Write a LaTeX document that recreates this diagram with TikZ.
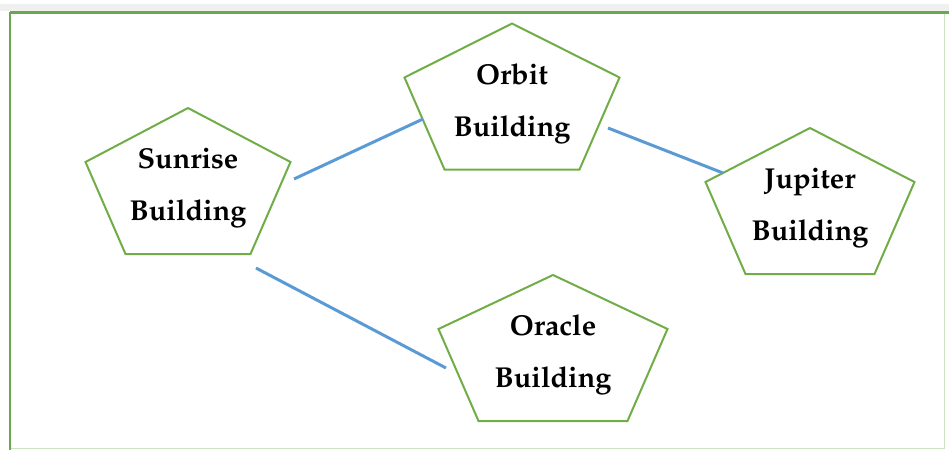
\documentclass[tikz,border=0pt]{standalone}
\usepackage[T1]{fontenc}
\usepackage{mathpazo}
\definecolor{bldggreen}{HTML}{70AD47}
\definecolor{framegreen}{HTML}{6AA84F}
\definecolor{linkblue}{HTML}{5B9BD5}
\tikzset{
    bldg/.style={font=\bfseries\fontsize{14.4}{26}\selectfont, align=center},
    link/.style={linkblue, line width=1.5pt},
    pics/pent/.style={code={
        \draw[bldggreen, line width=1pt] (0,-80) -- (#1,-26) -- ({#1-40},66) -- ({40-#1},66) -- (-#1,-26) -- cycle;
    }}
}
\begin{document}
\begin{tikzpicture}[x=0.5pt, y=-0.5pt]
        \useasboundingbox (0,0) rectangle (949,450);
        \fill[gray!12] (0,4) rectangle (949,11);
        \draw[framegreen!35, line width=0.5pt] (944,12) -- (944,448) -- (10,448);
        \draw[framegreen, line width=1pt] (10,450) -- (10,12);
        \draw[framegreen, line width=1.5pt] (10,12) -- (949,12);
        \node[bldg] (sunrise) at (188,188) {Sunrise\\Building};
        \node[bldg] (orbit) at (512,103.5) {Orbit\\Building};
        \node[bldg] (jupiter) at (810,208) {Jupiter\\Building};
        \node[bldg] (oracle) at (553,355) {Oracle\\Building};
        \pic at (sunrise) {pent=102.5};
        \pic at (orbit) {pent=107.5};
        \pic at (jupiter) {pent=104.5};
        \pic at (oracle) {pent=114.5};
        \draw[link] ([shift={(106,-9)}]sunrise.center) -- ([shift={(-89,15.5)}]orbit.center);
        \draw[link] ([shift={(96,24.5)}]orbit.center) -- ([shift={(-87,-35)}]jupiter.center);
        \draw[link] ([shift={(68,80)}]sunrise.center) -- ([shift={(-107,13)}]oracle.center);
\end{tikzpicture}
\end{document}
